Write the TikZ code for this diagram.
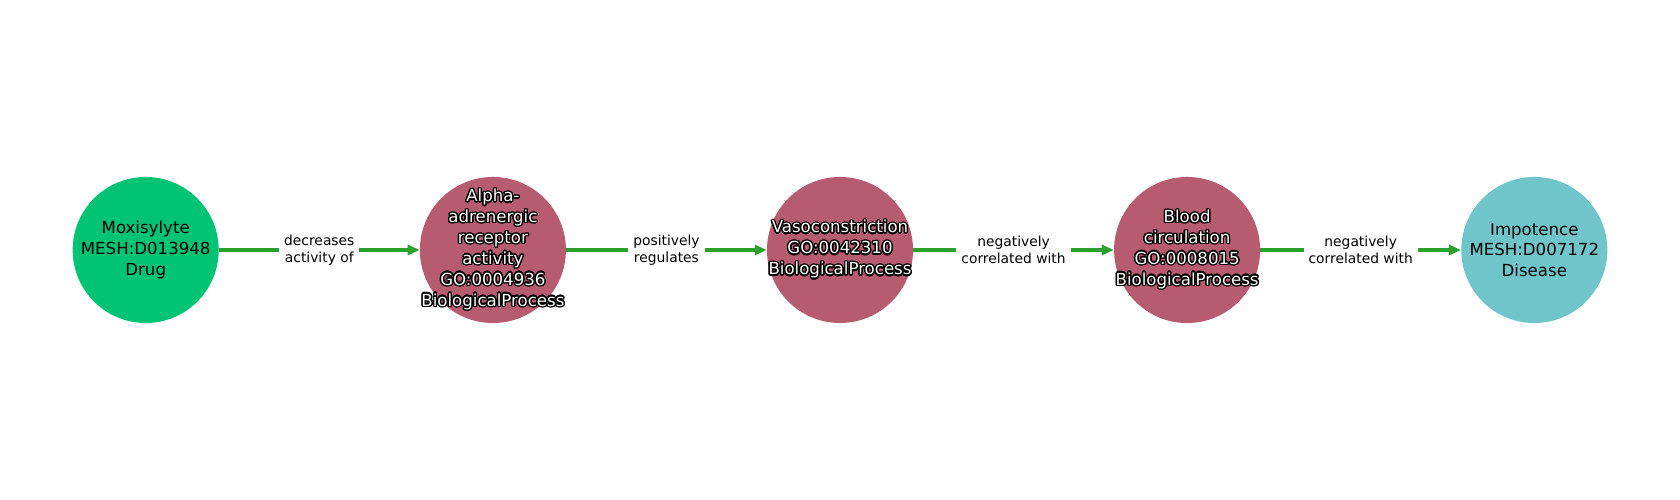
\documentclass[tikz,border=0pt]{standalone}
\usepackage{fontspec}
\setmainfont{DejaVu Sans}
\usepackage{contour}
\usepackage{xcolor}
\usetikzlibrary{arrows.meta}
\definecolor{drugcol}{HTML}{00C474}
\definecolor{proccol}{HTML}{B75B70}
\definecolor{diseasecol}{HTML}{70C5CB}
\definecolor{relgreen}{HTML}{2CA02C}
\contourlength{1pt}
\newcommand{\outl}[1]{\contour{black}{\textcolor{white}{#1}}}

\begin{document}
\begin{tikzpicture}[
  x=0.254mm, y=0.254mm,
  ent/.style={circle, inner sep=0pt, minimum size=37.1mm},
  enttext/.style={align=center, inner sep=0pt, font=\fontsize{12}{15.1}\selectfont},
  drug/.style={ent, fill=drugcol},
  proc/.style={ent, fill=proccol},
  disease/.style={ent, fill=diseasecol},
  rel/.style={relgreen, line width=2.2pt, -{Triangle[length=8.6pt,width=7.2pt]}},
  rellabel/.style={fill=white, text=black, inner sep=3.6pt, align=center,
    font=\fontsize{10}{12.3}\selectfont}
]
\useasboundingbox (0,0) rectangle (1680,500);
% ── Entities ─────────────────────────────────────
\node[drug, label={[enttext]center:Moxisylyte\\MESH:D013948\\Drug}] (moxi) at (145.7,250) {};
\node[proc, label={[enttext]center:\outl{Alpha-}\\\outl{adrenergic}\\\outl{receptor}\\\outl{activity}\\\outl{GO:0004936}\\\outl{BiologicalProcess}}]
  (alpha) at (492.9,250) {};
\node[proc, label={[enttext]center:\outl{Vasoconstriction}\\\outl{GO:0042310}\\\outl{BiologicalProcess}}]
  (vaso) at (840,250) {};
\node[proc, label={[enttext]center:\outl{Blood}\\\outl{circulation}\\\outl{GO:0008015}\\\outl{BiologicalProcess}}]
  (blood) at (1187.1,250) {};
\node[disease, label={[enttext]center:Impotence\\MESH:D007172\\Disease}] (impo) at (1534.3,250) {};
% ── Relations ────────────────────────────────────
\draw[rel] (moxi) -- node[rellabel] {decreases\\activity of} (alpha);
\draw[rel] (alpha) -- node[rellabel] {positively\\regulates} (vaso);
\draw[rel] (vaso) -- node[rellabel] {negatively\\correlated with} (blood);
\draw[rel] (blood) -- node[rellabel] {negatively\\correlated with} (impo);
\end{tikzpicture}
\end{document}
